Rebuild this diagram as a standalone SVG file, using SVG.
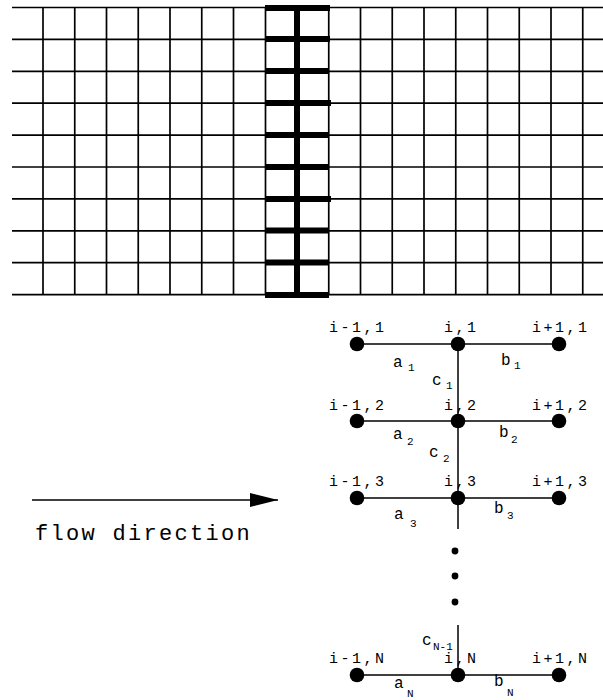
<svg xmlns="http://www.w3.org/2000/svg" width="603" height="700" viewBox="0 0 603 700">
<style>
.g{stroke:#000;stroke-width:1.7;fill:none}
.t{stroke:#000;stroke-width:6;fill:none}
.e{stroke:#000;stroke-width:1.5;fill:none}
.n{fill:#000}
.lb{font-family:"Liberation Mono","DejaVu Sans Mono",monospace;font-size:15px;letter-spacing:2.5px;fill:#000}
.el{font-family:"Liberation Mono","DejaVu Sans Mono",monospace;font-size:16px;fill:#000}
.sb{font-family:"Liberation Mono","DejaVu Sans Mono",monospace;font-size:11px;fill:#000}
.fd{font-family:"Liberation Mono","DejaVu Sans Mono",monospace;font-size:22px;letter-spacing:2.3px;fill:#000}
</style>
<defs>
<marker id="ah" markerWidth="28" markerHeight="16" refX="28" refY="8" orient="auto" markerUnits="userSpaceOnUse">
<polygon points="0,1 28,8 0,15" fill="#000"/>
</marker>
</defs>
<rect width="603" height="700" fill="#fff"/>
<g id="grid" class="g">
<line x1="12" y1="7.5" x2="603" y2="7.5"/>
<line x1="12" y1="39.4" x2="603" y2="39.4"/>
<line x1="12" y1="71.3" x2="603" y2="71.3"/>
<line x1="12" y1="103.2" x2="603" y2="103.2"/>
<line x1="12" y1="135.1" x2="603" y2="135.1"/>
<line x1="12" y1="167" x2="603" y2="167"/>
<line x1="12" y1="198.9" x2="603" y2="198.9"/>
<line x1="12" y1="230.8" x2="603" y2="230.8"/>
<line x1="12" y1="262.7" x2="603" y2="262.7"/>
<line x1="12" y1="294.6" x2="603" y2="294.6"/>
<line x1="43" y1="7.5" x2="43" y2="294.6"/>
<line x1="74.75" y1="7.5" x2="74.75" y2="294.6"/>
<line x1="106.5" y1="7.5" x2="106.5" y2="294.6"/>
<line x1="138.25" y1="7.5" x2="138.25" y2="294.6"/>
<line x1="170" y1="7.5" x2="170" y2="294.6"/>
<line x1="201.75" y1="7.5" x2="201.75" y2="294.6"/>
<line x1="233.5" y1="7.5" x2="233.5" y2="294.6"/>
<line x1="265.5" y1="7.5" x2="265.5" y2="294.6"/>
<line x1="328.75" y1="7.5" x2="328.75" y2="294.6"/>
<line x1="360.5" y1="7.5" x2="360.5" y2="294.6"/>
<line x1="392.25" y1="7.5" x2="392.25" y2="294.6"/>
<line x1="424" y1="7.5" x2="424" y2="294.6"/>
<line x1="455.75" y1="7.5" x2="455.75" y2="294.6"/>
<line x1="487.5" y1="7.5" x2="487.5" y2="294.6"/>
<line x1="519.25" y1="7.5" x2="519.25" y2="294.6"/>
<line x1="551" y1="7.5" x2="551" y2="294.6"/>
<line x1="582.75" y1="7.5" x2="582.75" y2="294.6"/>
</g>
<g id="thick-column" class="t">
<line x1="297" y1="5" x2="297" y2="297"/>
<line x1="265" y1="8" x2="330" y2="8"/>
<line x1="265" y1="39" x2="330" y2="39"/>
<line x1="265" y1="71" x2="329" y2="71"/>
<line x1="265" y1="103" x2="331" y2="103"/>
<line x1="265" y1="135" x2="329" y2="135"/>
<line x1="265" y1="167" x2="329" y2="167"/>
<line x1="265" y1="199" x2="331" y2="199"/>
<line x1="265" y1="230.5" x2="329" y2="230.5"/>
<line x1="265" y1="262.5" x2="329" y2="262.5"/>
<line x1="265" y1="295" x2="329" y2="295"/>
</g>
<g id="connectors">
<g class="e">
<line x1="357" y1="344" x2="559" y2="344"/>
<line x1="357" y1="421" x2="559" y2="421"/>
<line x1="357" y1="498" x2="559" y2="498"/>
<line x1="357" y1="675" x2="559" y2="675"/>
<line x1="458" y1="344" x2="458" y2="529"/>
<line x1="458" y1="625" x2="458" y2="675"/>
<line x1="32" y1="500" x2="278" y2="500" marker-end="url(#ah)"/>
</g>
<g id="edge-labels">
<text class="el" x="393" y="367">a</text><text class="sb" x="408" y="371">1</text>
<text class="el" x="501" y="365">b</text><text class="sb" x="514" y="369">1</text>
<text class="el" x="432" y="385">c</text><text class="sb" x="446" y="389">1</text>
<text class="el" x="393" y="439">a</text><text class="sb" x="407" y="445">2</text>
<text class="el" x="499" y="437">b</text><text class="sb" x="511" y="443">2</text>
<text class="el" x="429" y="457">c</text><text class="sb" x="443" y="462">2</text>
<text class="el" x="394" y="519">a</text><text class="sb" x="410" y="527">3</text>
<text class="el" x="494" y="513">b</text><text class="sb" x="507" y="519">3</text>
<text class="el" x="422" y="645">c</text><text class="sb" x="433" y="650">N-1</text>
<text class="el" x="394" y="688">a</text><text class="sb" x="407" y="697">N</text>
<text class="el" x="494" y="686">b</text><text class="sb" x="507" y="696">N</text>
</g>
</g>
<g id="continuation-dots" class="n">
<circle cx="455" cy="551" r="3.4"/>
<circle cx="455" cy="576" r="3.4"/>
<circle cx="455" cy="602" r="3.4"/>
</g>
<g id="node-im1-1"><circle class="n" cx="357" cy="344" r="7.3"/><text class="lb" x="329" y="332">i-1,1</text></g>
<g id="node-i-1"><circle class="n" cx="458" cy="344" r="7.3"/><text class="lb" x="444" y="332">i,1</text></g>
<g id="node-ip1-1"><circle class="n" cx="559" cy="344" r="7.3"/><text class="lb" x="532" y="332">i+1,1</text></g>
<g id="node-im1-2"><circle class="n" cx="357" cy="421" r="7.3"/><text class="lb" x="329" y="410">i-1,2</text></g>
<g id="node-i-2"><circle class="n" cx="458" cy="421" r="7.3"/><text class="lb" x="444" y="410">i,2</text></g>
<g id="node-ip1-2"><circle class="n" cx="559" cy="421" r="7.3"/><text class="lb" x="532" y="410">i+1,2</text></g>
<g id="node-im1-3"><circle class="n" cx="357" cy="498" r="7.3"/><text class="lb" x="329" y="486">i-1,3</text></g>
<g id="node-i-3"><circle class="n" cx="458" cy="498" r="7.3"/><text class="lb" x="444" y="486">i,3</text></g>
<g id="node-ip1-3"><circle class="n" cx="559" cy="498" r="7.3"/><text class="lb" x="532" y="486">i+1,3</text></g>
<g id="node-im1-N"><circle class="n" cx="357" cy="675" r="7.3"/><text class="lb" x="329" y="663">i-1,N</text></g>
<g id="node-i-N"><circle class="n" cx="458" cy="675" r="7.3"/><text class="lb" x="444" y="663">i,N</text></g>
<g id="node-ip1-N"><circle class="n" cx="559" cy="675" r="7.3"/><text class="lb" x="532" y="663">i+1,N</text></g>
<text class="fd" x="35" y="540">flow direction</text>
</svg>
